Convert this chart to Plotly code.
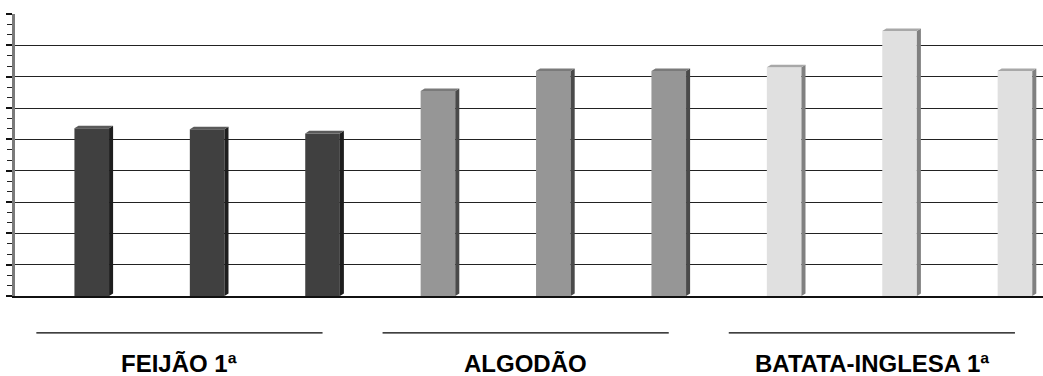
import plotly.graph_objects as go

# Crop groups and their three bars each
crops = ["FEIJÃO 1ª", "ALGODÃO", "BATATA-INGLESA 1ª"]
feijao = [5.35, 5.32, 5.19]
algodao = [6.54, 7.18, 7.18]
batata = [7.30, 8.46, 7.18]

series = [feijao, algodao, batata]
face_colors = ["#404040", "#969696", "#e0e0e0"]
side_colors = ["#1e1e1e", "#4a4a4a", "#808080"]
top_colors = ["#5a5a5a", "#7a7a7a", "#a8a8a8"]

BAR_W = 0.30      # width of the front face (x units)
DX = 0.035        # depth offset to the right (x units)
DY = 0.08         # depth offset upward (y units)

fig = go.Figure()
shapes = []

for g, (name, vals) in enumerate(zip(crops, series)):
    xs = [3 * g + i for i in range(len(vals))]
    fig.add_trace(go.Bar(
        x=xs, y=vals, name=name, width=BAR_W,
        marker=dict(color=face_colors[g], line=dict(width=0)),
        showlegend=False, hoverinfo="skip",
    ))
    for x, v in zip(xs, vals):
        x0, x1 = x - BAR_W / 2, x + BAR_W / 2
        # right-hand side face
        shapes.append(dict(
            type="path", xref="x", yref="y", layer="above",
            path=f"M {x1},0 L {x1 + DX},{DY} L {x1 + DX},{v + DY} L {x1},{v} Z",
            fillcolor=side_colors[g], line=dict(width=0),
        ))
        # top face
        shapes.append(dict(
            type="path", xref="x", yref="y", layer="above",
            path=f"M {x0},{v} L {x0 + DX},{v + DY} L {x1 + DX},{v + DY} L {x1},{v} Z",
            fillcolor=top_colors[g], line=dict(width=0),
        ))
    # group underline below the plot
    shapes.append(dict(
        type="line", xref="x", yref="paper",
        x0=3 * g - 0.48, x1=3 * g + 2.0, y0=-0.131, y1=-0.131,
        line=dict(color="#000000", width=1.2),
    ))

annotations = [
    dict(
        x=3 * g + 0.76, y=-0.24, xref="x", yref="paper",
        text=f"<b>{name}</b>", showarrow=False,
        font=dict(family="Liberation Sans, Arial, sans-serif", size=24, color="#000000"),
        xanchor="center", yanchor="middle",
    )
    for g, name in enumerate(crops)
]

fig.update_layout(
    width=1043, height=376,
    margin=dict(l=15, r=0, t=14, b=80),
    paper_bgcolor="white", plot_bgcolor="white",
    barmode="overlay",
    shapes=shapes, annotations=annotations,
    xaxis=dict(
        range=[-0.665, 8.243], showticklabels=False, ticks="",
        showgrid=False, zeroline=False,
        showline=True, linecolor="#111111", linewidth=1.5,
    ),
    yaxis=dict(
        range=[0, 9], dtick=1, showticklabels=False,
        ticks="outside", ticklen=6, tickcolor="#111111", tickwidth=1.5,
        showgrid=True, gridcolor="#222222", gridwidth=1.4,
        zeroline=False,
        showline=True, linecolor="#7a7a7a", linewidth=2.5,
        minor=dict(dtick=1 / 3, ticks="outside", ticklen=5,
                   tickcolor="#222222", tickwidth=1.2, showgrid=False),
    ),
)

fig.write_html("out.html")
